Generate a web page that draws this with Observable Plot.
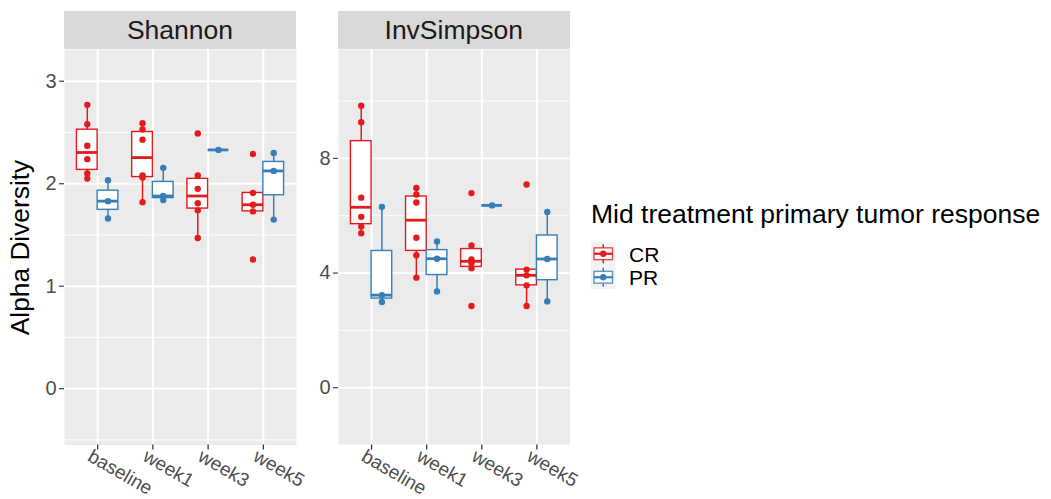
<!DOCTYPE html>
<html><head><meta charset="utf-8">
<script src="https://cdn.jsdelivr.net/npm/d3@7"></script>
<script src="https://cdn.jsdelivr.net/npm/@observablehq/plot@0.6"></script>
<style>
body{margin:0;background:#fff;font-family:"Liberation Sans",Arial,sans-serif;}
#wrap{position:relative;width:1051px;height:499px;overflow:hidden;}
.strip{position:absolute;top:11px;height:38px;background:#D9D9D9;color:#1A1A1A;font-size:26.5px;line-height:38px;text-align:center;}
.pl{position:absolute;top:0;}
.ltitle{position:absolute;left:591px;top:199px;font-size:26.5px;color:#000;white-space:nowrap;}
</style></head><body><div id="wrap"></div>
<script>
const times = ["baseline", "week1", "week3", "week5"];
const groups = ["CR", "PR"];
const groupColors = ["#E41A1C", "#377EB8"];
const metrics = ["Shannon", "InvSimpson"];
const legendTitle = "Mid treatment primary tumor response";
const yTitle = "Alpha Diversity";

// values per time point (baseline, week1, week3, week5)
const shannonCR = [[2.77, 2.58, 2.37, 2.24, 2.10, 2.05], [2.59, 2.53, 2.43, 2.08, 2.06, 1.82], [2.49, 2.08, 1.95, 1.81, 1.74, 1.47], [2.29, 1.91, 1.795, 1.73, 1.26]];
const shannonPR = [[2.035, 1.83, 1.66], [2.155, 1.88, 1.84], [2.33], [2.30, 2.125, 1.65]];
const invCR = [[9.835, 9.26, 6.63, 5.96, 5.62, 5.39], [6.97, 6.74, 6.46, 5.23, 4.62, 3.84], [6.79, 4.96, 4.47, 4.35, 4.17, 2.85], [7.09, 4.12, 3.92, 3.57, 2.85]];
const invPR = [[6.31, 3.23, 2.99], [5.10, 4.50, 3.36], [6.36], [6.13, 4.49, 3.01]];

const shannonTicks = [0, 1, 2, 3];
const shannonMinor = [-0.5, 0.5, 1.5, 2.5];
const invTicks = [0, 4, 8];
const invMinor = [-2, 2, 6, 10];

const HALF = 0.1875; // half of dodged box width (0.75 / 4)

function build(cr, pr) {
  const boxes = [], pts = [];
  [cr, pr].forEach((series, gi) => {
    series.forEach((vals, ti) => {
      const pos = ti + (gi === 0 ? -HALF : HALF);
      const s = vals.slice().sort(d3.ascending);
      const q1 = d3.quantile(s, 0.25), med = d3.quantile(s, 0.5), q3 = d3.quantile(s, 0.75);
      const iqr = q3 - q1;
      const inside = s.filter(v => v >= q1 - 1.5 * iqr && v <= q3 + 1.5 * iqr);
      boxes.push({group: groups[gi], pos, q1, med, q3, lo: d3.min(inside), hi: d3.max(inside)});
      vals.forEach(v => pts.push({group: groups[gi], pos, value: v}));
    });
  });
  return {boxes, pts};
}

function panel(cr, pr, domain, ticks, minor, width, ml, mr) {
  const {boxes, pts} = build(cr, pr);
  return Plot.plot({
    width, height: 499,
    marginTop: 49, marginBottom: 54.5, marginLeft: ml, marginRight: mr,
    style: {fontFamily: "Liberation Sans, Arial, sans-serif", background: "transparent", overflow: "visible"},
    x: {domain: [-0.6, 3.6], label: null},
    y: {domain, label: null},
    color: {domain: groups, range: groupColors},
    marks: [
      Plot.frame({fill: "#EBEBEB"}),
      Plot.gridY(minor, {stroke: "white", strokeOpacity: 1, strokeWidth: 0.95}),
      Plot.gridY(ticks, {stroke: "white", strokeOpacity: 1, strokeWidth: 1.9}),
      Plot.gridX([0, 1, 2, 3], {stroke: "white", strokeOpacity: 1, strokeWidth: 1.9}),
      Plot.ruleX(boxes, {x: "pos", y1: "q3", y2: "hi", stroke: "group", strokeWidth: 1.5}),
      Plot.ruleX(boxes, {x: "pos", y1: "lo", y2: "q1", stroke: "group", strokeWidth: 1.5}),
      Plot.rect(boxes, {x1: d => d.pos - HALF, x2: d => d.pos + HALF, y1: "q1", y2: "q3", fill: "white", stroke: "group", strokeWidth: 1.4}),
      Plot.ruleY(boxes, {x1: d => d.pos - HALF, x2: d => d.pos + HALF, y: "med", stroke: "group", strokeWidth: 2.8}),
      Plot.dot(pts, {x: "pos", y: "value", fill: "group", r: 3.2}),
      Plot.axisY(ticks, {tickSize: 5, tickPadding: 3, fontSize: 20, color: "#4D4D4D", strokeWidth: 1.3, tickFormat: d => String(d), label: null}),
      Plot.axisX([0, 1, 2, 3], {tickSize: 5, tickFormat: () => "", color: "#333333", strokeWidth: 1.3, label: null}),
      Plot.text(times, {x: (d, i) => i, text: d => d, frameAnchor: "bottom", rotate: 30, textAnchor: "start", lineAnchor: "top", dx: -4.5, dy: 3.3, fontSize: 19, fill: "#4D4D4D"})
    ]
  });
}

const wrap = document.getElementById("wrap");

const p1 = panel(shannonCR, shannonPR, [-0.55, 3.31], shannonTicks, shannonMinor, 300, 64, 4);
p1.classList.add("pl"); p1.style.left = "0px";
wrap.appendChild(p1);
const p2 = panel(invCR, invPR, [-2.0, 11.8], invTicks, invMinor, 280, 38, 10.5);
p2.classList.add("pl"); p2.style.left = "300px";
wrap.appendChild(p2);

// strips
[[64, 232], [338, 231.5]].forEach(([l, w], i) => {
  const d = document.createElement("div");
  d.className = "strip"; d.style.left = l + "px"; d.style.width = w + "px";
  d.textContent = metrics[i];
  wrap.appendChild(d);
});

// y-axis title
const yt = d3.select(wrap).append("svg").attr("width", 60).attr("height", 499)
  .style("position", "absolute").style("left", "0px").style("top", "0px");
yt.append("text").attr("transform", "translate(29.3,247.5) rotate(-90)")
  .attr("text-anchor", "middle").attr("font-size", 26.3).attr("fill", "#000")
  .attr("font-family", "Liberation Sans, Arial, sans-serif").text(yTitle);

// legend
const lt = document.createElement("div");
lt.className = "ltitle"; lt.textContent = legendTitle;
wrap.appendChild(lt);
const lg = d3.select(wrap).append("svg").attr("width", 120).attr("height", 60)
  .style("position", "absolute").style("left", "591px").style("top", "242px");
groups.forEach((g, i) => {
  const k = 23.5, y0 = i * k, c = groupColors[i];
  const gg = lg.append("g").attr("transform", `translate(0,${y0})`);
  gg.append("rect").attr("width", 24.5).attr("height", k).attr("fill", "#F2F2F2");
  gg.append("line").attr("x1", 12.25).attr("x2", 12.25).attr("y1", k * 0.1).attr("y2", k * 0.9).attr("stroke", c).attr("stroke-width", 1.5);
  gg.append("rect").attr("x", 3).attr("width", 18.5).attr("y", k * 0.25).attr("height", k * 0.5).attr("fill", "white").attr("stroke", c).attr("stroke-width", 1.4).attr("stroke-opacity", 0.8);
  gg.append("line").attr("x1", 3).attr("x2", 21.5).attr("y1", k / 2).attr("y2", k / 2).attr("stroke", c).attr("stroke-width", 2.2);
  gg.append("circle").attr("cx", 12.25).attr("cy", k / 2).attr("r", 3.2).attr("fill", c);
  gg.append("text").attr("x", 38).attr("y", 19.6).attr("font-size", 21).attr("fill", "#000")
    .attr("font-family", "Liberation Sans, Arial, sans-serif").text(g);
});
</script></body></html>
